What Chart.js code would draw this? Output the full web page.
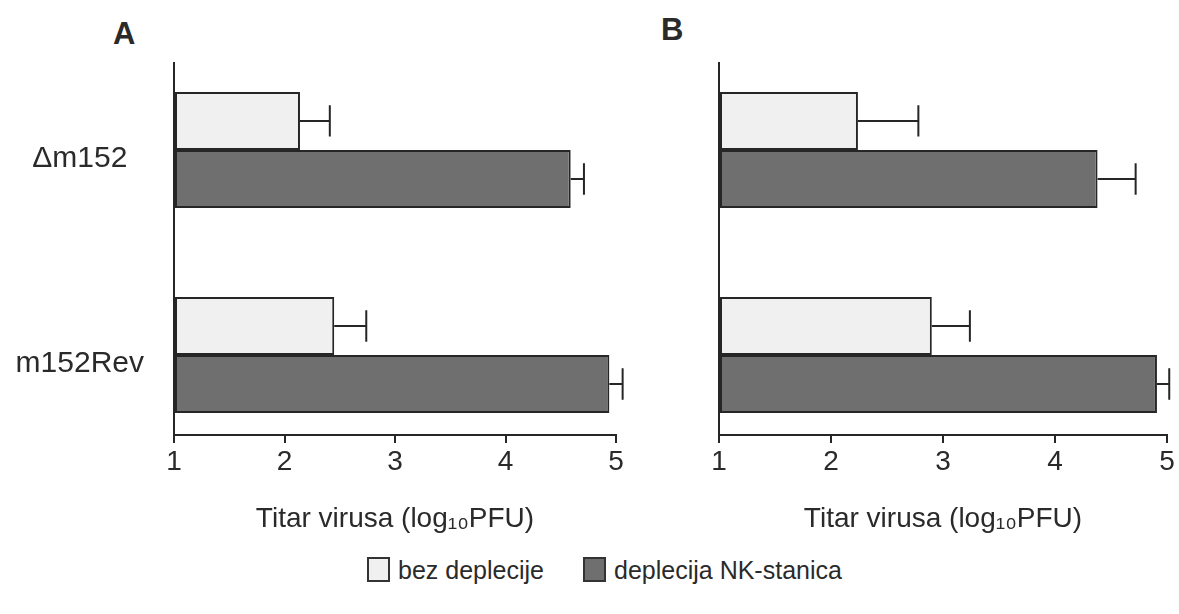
<!DOCTYPE html>
<html>
<head>
<meta charset="utf-8">
<script src="https://cdn.jsdelivr.net/npm/chart.js@4"></script>
<style>
    body { margin: 0; background: #fff; width: 1179px; height: 614px; position: relative; overflow: hidden; font-family: 'Liberation Sans', Arial, sans-serif; color: #2a2a2a; }
    canvas { position: absolute; top: 0; }
    .panel-letter { position: absolute; font-weight: bold; font-size: 31px; }
    .legend-item { position: absolute; top: 556px; font-size: 25px; line-height: 28px; }
    .box { position: absolute; top: 557px; width: 19px; height: 21px; border: 2px solid #333; }
</style>
</head>
<body>
<div class="panel-letter" style="left:113px; top:16px;">A</div>
<div class="panel-letter" style="left:661px; top:12px;">B</div>
<canvas id="chartA" width="640" height="545" style="left:0"></canvas>
<canvas id="chartB" width="539" height="545" style="left:640px"></canvas>
<div class="box" style="left:367px; background:#f0f0f0"></div>
<div class="legend-item" style="left:398px">bez deplecije</div>
<div class="box" style="left:583px; background:#6f6f6f"></div>
<div class="legend-item" style="left:614px">deplecija NK-stanica</div>
<script>
// ---- Data ----
const categories = ['\u0394m152', 'm152Rev'];
const seriesNames = ['bez deplecije', 'deplecija NK-stanica'];

const noDepletionA = [2.14, 2.45];
const noDepletionErrA = [0.27, 0.29];
const depletionA = [4.59, 4.94];
const depletionErrA = [0.12, 0.12];

const noDepletionB = [2.24, 2.90];
const noDepletionErrB = [0.54, 0.34];
const depletionB = [4.38, 4.91];
const depletionErrB = [0.34, 0.11];

const xTicks = [1, 2, 3, 4, 5];
const xTitle = 'Titar virusa (log\u2081\u2080PFU)';

Chart.defaults.font.family = "'Liberation Sans', Arial, sans-serif";
Chart.defaults.font.size = 27;
Chart.defaults.color = '#2a2a2a';

// error bars, drawn to the right of each bar
const errorBars = {
    id: 'errorBars',
    afterDatasetsDraw(chart) {
        const ctx = chart.ctx;
        const x = chart.scales.x;
        chart.data.datasets.forEach((ds, i) => {
            chart.getDatasetMeta(i).data.forEach((bar, j) => {
                const end = x.getPixelForValue(ds.data[j].x + ds.errors[j]);
                const cap = bar.height * 0.27;
                ctx.save();
                ctx.strokeStyle = '#262626';
                ctx.lineWidth = 2;
                ctx.beginPath();
                ctx.moveTo(bar.x, bar.y);
                ctx.lineTo(end, bar.y);
                ctx.moveTo(end, bar.y - cap);
                ctx.lineTo(end, bar.y + cap);
                ctx.stroke();
                ctx.restore();
            });
        });
    }
};

function toPoints(values) {
    return values.map((v, i) => ({ x: v, y: i }));
}

function makeChart(id, light, lightErr, dark, darkErr, showLabels, leftWidth, rightPad) {
    new Chart(document.getElementById(id), {
        type: 'bar',
        data: {
            datasets: [{
                label: seriesNames[0],
                data: toPoints(light),
                errors: lightErr,
                base: 1,
                backgroundColor: '#f0f0f0',
                borderColor: '#262626',
                borderWidth: 2,
                borderSkipped: false
            }, {
                label: seriesNames[1],
                data: toPoints(dark),
                errors: darkErr,
                base: 1,
                backgroundColor: '#6f6f6f',
                borderColor: '#262626',
                borderWidth: 2,
                borderSkipped: false
            }]
        },
        options: {
            indexAxis: 'y',
            responsive: false,
            animation: false,
            layout: { padding: { top: 63, right: rightPad, left: 0, bottom: 0 } },
            datasets: { bar: { categoryPercentage: 0.566, barPercentage: 1 } },
            plugins: {
                legend: { display: false },
                tooltip: { enabled: false }
            },
            scales: {
                x: {
                    type: 'linear',
                    min: 1,
                    max: 5,
                    afterBuildTicks: s => { s.ticks = xTicks.map(v => ({ value: v })); },
                    grid: { drawOnChartArea: false, color: '#262626', lineWidth: 2, tickLength: 8 },
                    border: { color: '#262626', width: 2 },
                    ticks: { padding: 2, font: { size: 28 } },
                    title: { display: true, text: xTitle, font: { size: 28 }, padding: { top: 4, bottom: 9 } },
                    afterFit: s => { s.height = 110; }
                },
                y: {
                    type: 'linear',
                    offset: false,
                    reverse: true,
                    min: -0.424,
                    max: 1.39,
                    afterBuildTicks: s => { s.ticks = categories.map((c, i) => ({ value: i })); },
                    grid: { display: false, drawTicks: false, offset: false },
                    border: { color: '#262626', width: 2 },
                    ticks: {
                        display: showLabels,
                        crossAlign: 'center',
                        padding: 30,
                        labelOffset: 9,
                        font: { size: 30 },
                        callback: v => categories[v]
                    },
                    afterFit: s => { s.width = leftWidth; }
                }
            }
        },
        plugins: [errorBars]
    });
}

makeChart('chartA', noDepletionA, noDepletionErrA, depletionA, depletionErrA, true, 174, 24);
makeChart('chartB', noDepletionB, noDepletionErrB, depletionB, depletionErrB, false, 79, 12);
</script>
</body>
</html>
